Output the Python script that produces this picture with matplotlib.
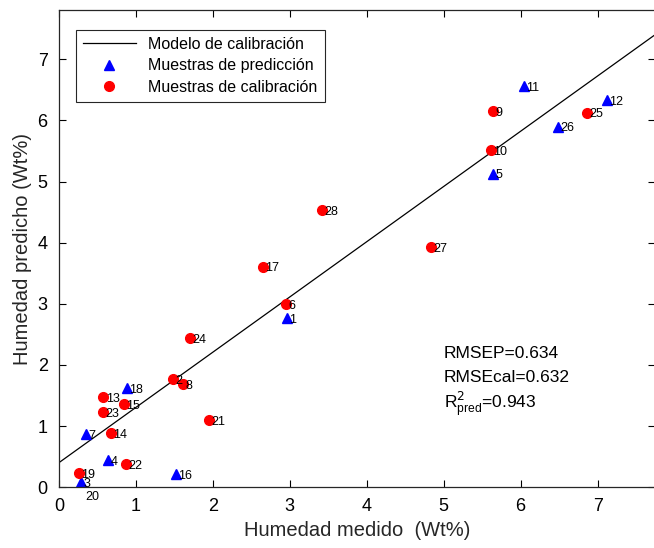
import numpy as np
import matplotlib.pyplot as plt

plt.rcParams['font.family'] = ['Liberation Sans', 'DejaVu Sans']

# calibration samples (red circles)
cal_ids = [2, 8, 13, 15, 23, 14, 22, 19, 21, 24, 17, 6, 28, 27, 9, 10, 25, 20]
cal_x = [1.48, 1.61, 0.58, 0.84, 0.58, 0.68, 0.87, 0.26, 1.95, 1.70, 2.65, 2.95, 3.42, 4.83, 5.64, 5.61, 6.86, 0.31]
cal_y = [1.77, 1.69, 1.48, 1.36, 1.23, 0.89, 0.38, 0.23, 1.10, 2.44, 3.61, 3.00, 4.54, 3.93, 6.16, 5.51, 6.13, -0.13]

# prediction samples (blue triangles)
pred_ids = [18, 7, 4, 3, 16, 1, 5, 11, 12, 26]
pred_x = [0.88, 0.35, 0.64, 0.29, 1.52, 2.96, 5.64, 6.04, 7.12, 6.48]
pred_y = [1.62, 0.87, 0.44, 0.08, 0.21, 2.77, 5.13, 6.56, 6.33, 5.90]

# calibration model line
slope = 0.904
intercept = 0.40

fig = plt.figure(figsize=(6.54, 5.48), dpi=100)
ax = fig.add_axes([0.090, 0.111, 0.912, 0.871])

xl = np.array([0, 7.8])
ax.plot(xl, slope * xl + intercept, color='black', lw=0.9, label='Modelo de calibración')
ax.plot(pred_x, pred_y, '^', color='blue', ms=7, ls='none', label='Muestras de predicción')
ax.plot(cal_x, cal_y, 'o', color='red', ms=7, ls='none', label='Muestras de calibración')

for i, x, y in zip(pred_ids, pred_x, pred_y):
    ax.text(x + 0.03, y - 0.03, str(i), fontsize=9, va='center', ha='left')
for i, x, y in zip(cal_ids, cal_x, cal_y):
    ax.text(x + 0.03, y - 0.03, str(i), fontsize=9, va='center', ha='left')

ax.set_xlim(0, 7.75)
ax.set_ylim(0, 7.81)
ax.set_xticks(range(0, 8))
ax.set_yticks(range(0, 8))
ax.tick_params(direction='in', top=True, right=True, labelsize=13, length=5, width=0.8, pad=8)
for s in ax.spines.values():
    s.set_color('#262626')
    s.set_linewidth(0.9)

ax.set_xlabel('Humedad medido  (Wt%)', fontsize=14.5, color='#262626', labelpad=4)
ax.set_ylabel('Humedad predicho (Wt%)', fontsize=14.5, color='#262626', labelpad=4)

ax.text(5.0, 2.11, 'RMSEP=0.634', fontsize=12.5)
ax.text(5.0, 1.72, 'RMSEcal=0.632', fontsize=12.5)
ax.text(5.0, 1.29, r'R$^2_{\mathregular{pred}}$=0.943', fontsize=12.5)

leg = ax.legend(loc='upper left', bbox_to_anchor=(0.015, 0.975), fontsize=11.5,
                fancybox=False, edgecolor='#262626', framealpha=1,
                handlelength=3.3, borderpad=0.45, labelspacing=0.4)
leg.get_frame().set_linewidth(0.8)

fig.savefig('out.png', dpi=100)
